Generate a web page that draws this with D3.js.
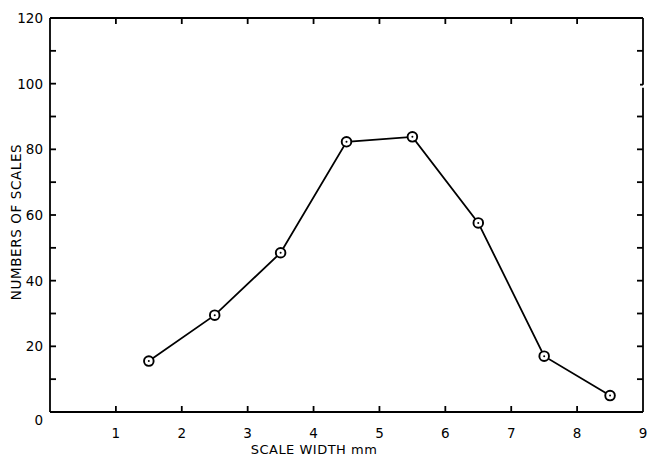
<!DOCTYPE html>
<html>
<head>
<meta charset="utf-8">
<script src="https://cdn.jsdelivr.net/npm/d3@7"></script>
<style>
  body { margin: 0; background: #fff; }
  text { font-family: "DejaVu Sans", sans-serif; fill: #000; }
</style>
</head>
<body>
<div id="chart"></div>
<script>
//Data
const widths = [1.5, 2.5, 3.5, 4.5, 5.5, 6.5, 7.5, 8.5];
const counts = [15.5, 29.5, 48.5, 82.3, 83.8, 57.6, 17, 5];
const xTicks = [1, 2, 3, 4, 5, 6, 7, 8, 9];
const yLabels = [0, 20, 40, 60, 80, 100, 120];
const yMinor = [10, 20, 30, 40, 50, 60, 70, 80, 90, 100, 110];

//Size of the canvas
const w = 648, h = 457;

const svg = d3.select("#chart").append("svg")
    .attr("width", w)
    .attr("height", h)
    .style("background-color", "white");

//Scales
const x = d3.scaleLinear().domain([0, 9]).range([50, 643]);
const y = d3.scaleLinear().domain([0, 120]).range([412, 18]);

const ink = "#000";
const frame = svg.append("g").attr("stroke", ink).attr("stroke-width", 1.8).attr("fill", "none");

//Frame: left, bottom, top, right (right side has a small break near 100)
frame.append("line").attr("x1", x(0)).attr("x2", x(0)).attr("y1", y(120)).attr("y2", y(0));
frame.append("line").attr("x1", x(0)).attr("x2", x(9)).attr("y1", y(0)).attr("y2", y(0));
frame.append("line").attr("x1", x(0)).attr("x2", x(9)).attr("y1", y(120)).attr("y2", y(120));
frame.append("line").attr("x1", x(9)).attr("x2", x(9)).attr("y1", y(120)).attr("y2", y(100) + 1);
frame.append("line").attr("x1", x(9) - 3).attr("x2", x(9)).attr("y1", y(100) + 1).attr("y2", y(100) + 1);
frame.append("line").attr("x1", x(9)).attr("x2", x(9)).attr("y1", y(100) + 4).attr("y2", y(0));

//Inward ticks on the left and right sides
const tickLen = 6;
frame.selectAll(".ly").data(yMinor).join("line")
    .attr("x1", x(0)).attr("x2", x(0) + tickLen)
    .attr("y1", d => y(d)).attr("y2", d => y(d));
frame.selectAll(".ry").data(yMinor.filter(d => d !== 100)).join("line")
    .attr("x1", x(9)).attr("x2", x(9) - tickLen)
    .attr("y1", d => y(d)).attr("y2", d => y(d));

//Inward ticks on the bottom and top
frame.selectAll(".bx").data(xTicks.slice(0, -1)).join("line")
    .attr("x1", d => x(d)).attr("x2", d => x(d))
    .attr("y1", y(0)).attr("y2", y(0) - tickLen);
frame.selectAll(".tx").data(xTicks.slice(0, -1)).join("line")
    .attr("x1", d => x(d)).attr("x2", d => x(d))
    .attr("y1", y(120)).attr("y2", y(120) + tickLen);

//Tick labels
svg.selectAll(".ylab").data(yLabels).join("text")
    .attr("x", x(0) - 7)
    .attr("y", d => y(d) + (d === 0 ? 8 : 0))
    .attr("dy", "0.36em")
    .attr("text-anchor", "end")
    .attr("font-size", 13.5)
    .text(d => d);

svg.selectAll(".xlab").data(xTicks).join("text")
    .attr("x", d => x(d))
    .attr("y", 438)
    .attr("text-anchor", "middle")
    .attr("font-size", 13.5)
    .text(d => d);

//Axis titles
svg.append("text")
    .attr("x", 314)
    .attr("y", 454)
    .attr("text-anchor", "middle")
    .attr("font-size", 13)
    .attr("letter-spacing", 0.5)
    .text("SCALE WIDTH mm");

svg.append("text")
    .attr("transform", "translate(21," + 222 + ") rotate(-90)")
    .attr("text-anchor", "middle")
    .attr("font-size", 13.5)
    .attr("letter-spacing", 0.6)
    .text("NUMBERS OF SCALES");

//Line through the points
const pts = widths.map((d, i) => [d, counts[i]]);
const line = d3.line().x(d => x(d[0])).y(d => y(d[1]));

svg.append("path")
    .datum(pts)
    .attr("d", line)
    .attr("fill", "none")
    .attr("stroke", ink)
    .attr("stroke-width", 1.8);

//Circle markers with a centre dot
const marks = svg.selectAll(".pt").data(pts).join("g")
    .attr("transform", d => "translate(" + x(d[0]) + "," + y(d[1]) + ")");
marks.append("circle")
    .attr("r", 4.8)
    .attr("fill", "white")
    .attr("stroke", ink)
    .attr("stroke-width", 1.9);
marks.append("circle")
    .attr("r", 1)
    .attr("fill", ink);
</script>
</body>
</html>
